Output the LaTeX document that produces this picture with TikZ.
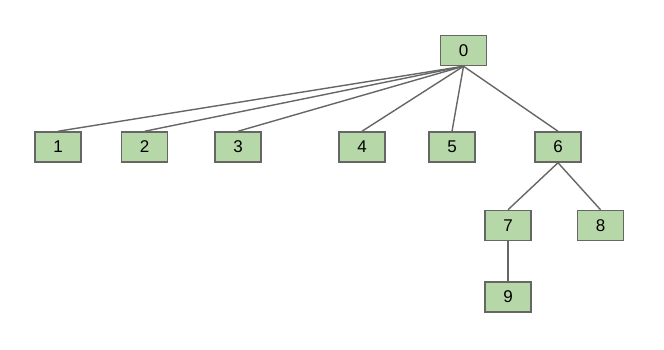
\documentclass[tikz,border=0pt]{standalone}
\usepackage{fontspec}
\setmainfont{Liberation Sans}
\definecolor{boxfill}{HTML}{B6D7A8}
\definecolor{boxline}{HTML}{666666}
\begin{document}
\begin{tikzpicture}[x=1pt,y=-1pt,
  tnode/.style={draw=boxline,fill=boxfill,line width=1.5pt,minimum width=46pt,minimum height=30pt,inner sep=0pt,font=\fontsize{17}{20}\selectfont},
  edge/.style={draw=boxline,line width=1.4pt}]
\useasboundingbox (0,0) rectangle (664,350);
\node[tnode] (n0) at (463.5,50.5) {0};
\node[tnode] (n1) at (58,147) {1};
\node[tnode] (n2) at (144.7,147) {2};
\node[tnode] (n3) at (238,147) {3};
\node[tnode] (n4) at (362,147) {4};
\node[tnode] (n5) at (452,147) {5};
\node[tnode] (n6) at (558,147) {6};
\node[tnode] (n7) at (508,225.5) {7};
\node[tnode] (n8) at (600.5,225.5) {8};
\node[tnode] (n9) at (508,297) {9};
\foreach \c in {n1,n2,n3,n4,n5,n6}
  \draw[edge] (n0.south) -- (\c.north);
\draw[edge] (n6.south) -- (n7.north);
\draw[edge] (n6.south) -- (n8.north);
\draw[edge] (n7.south) -- (n9.north);
\end{tikzpicture}
\end{document}
